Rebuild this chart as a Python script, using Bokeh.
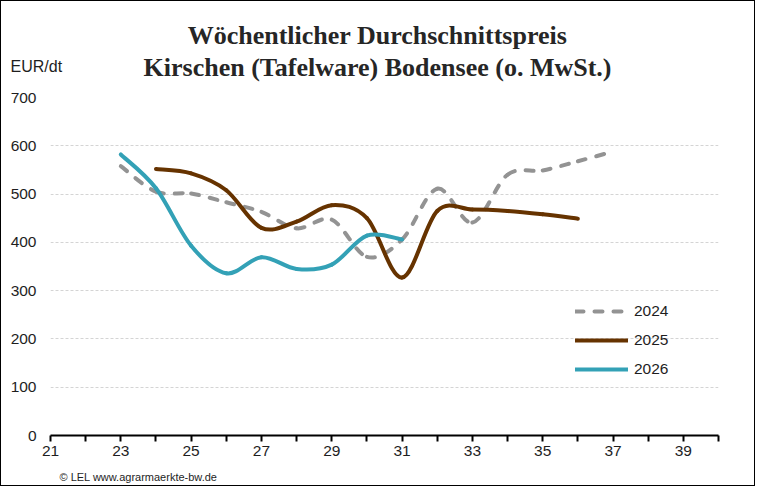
from bokeh.plotting import figure
from bokeh.models import (ColumnDataSource, Range1d, FixedTicker, Label, Legend,
                          LegendItem)
from bokeh.embed import file_html
from bokeh.resources import INLINE

# ---- data ----
weeks_2024 = [23, 24, 25, 26, 27, 28, 29, 30, 31, 32, 33, 34, 35, 36, 37]
price_2024 = [558, 505, 501, 483, 463, 429, 447, 370, 406, 511, 441, 540, 549, 568, 588]

weeks_2025 = [24, 25, 26, 27, 28, 29, 30, 31, 32, 33, 34, 35, 36]
price_2025 = [552, 543, 508, 430, 443, 477, 450, 327, 465, 468, 465, 458, 449]

weeks_2026 = [23, 24, 25, 26, 27, 28, 29, 30, 31]
price_2026 = [582, 512, 393, 336, 369, 345, 354, 414, 406]

x_major_ticks = [21, 23, 25, 27, 29, 31, 33, 35, 37, 39]
x_minor_ticks = [22, 24, 26, 28, 30, 32, 34, 36, 38, 40]
y_ticks = [0, 100, 200, 300, 400, 500, 600, 700]

series_names = ["2024", "2025", "2026"]
colors = ["#939393", "#663300", "#33a1b6"]
dashes = ["8 11", "solid", "solid"]

TITLE1 = "Wöchentlicher Durchschnittspreis"
TITLE2 = "Kirschen (Tafelware) Bodensee (o. MwSt.)"
UNIT = "EUR/dt"
FOOTER = "© LEL www.agrarmaerkte-bw.de"

SANS = "Liberation Sans"
SERIF = "Liberation Serif"
NAN = float("nan")


def smooth_segments(xs, ys):
    """Bezier control points of a smoothed line through the data points."""
    n = len(xs)
    d = dict(x0=[], y0=[], x1=[], y1=[], cx0=[], cy0=[], cx1=[], cy1=[])
    for i in range(n - 1):
        a = i - 1 if i > 0 else i
        b = i + 2 if i + 2 < n else i + 1
        d["x0"].append(xs[i]); d["y0"].append(ys[i])
        d["x1"].append(xs[i + 1]); d["y1"].append(ys[i + 1])
        d["cx0"].append(xs[i] + (xs[i + 1] - xs[a]) / 6)
        d["cy0"].append(ys[i] + (ys[i + 1] - ys[a]) / 6)
        d["cx1"].append(xs[i + 1] - (xs[b] - xs[i]) / 6)
        d["cy1"].append(ys[i + 1] - (ys[b] - ys[i]) / 6)
    return ColumnDataSource(d)


p = figure(width=755, height=486, output_backend="svg", toolbar_location=None,
           x_range=Range1d(21, 40), y_range=Range1d(0, 700),
           min_border_left=49, min_border_right=38, min_border_top=96,
           min_border_bottom=52)
p.styles = {"border": "1px solid black"}
p.outline_line_color = None
p.background_fill_color = "white"
p.border_fill_color = "white"

# grid
p.xgrid.grid_line_color = None
p.ygrid.ticker = FixedTicker(ticks=y_ticks)
p.ygrid.grid_line_color = "#d4d4d4"
p.ygrid.grid_line_dash = "3 2"
p.ygrid.grid_line_width = 1

# x axis
xa = p.xaxis[0]
xa.ticker = FixedTicker(ticks=x_major_ticks, minor_ticks=x_minor_ticks)
xa.axis_line_color = "black"
xa.axis_line_width = 2
xa.major_tick_line_color = "black"
xa.major_tick_line_width = 2
xa.minor_tick_line_color = "black"
xa.minor_tick_line_width = 2
xa.major_tick_in = 0
xa.major_tick_out = 6
xa.minor_tick_in = 0
xa.minor_tick_out = 6
xa.major_label_standoff = 4
xa.major_label_text_font = SANS
xa.major_label_text_font_size = "15.5px"
xa.major_label_text_color = "#1e1e1e"

# y axis
ya = p.yaxis[0]
ya.ticker = FixedTicker(ticks=y_ticks)
ya.axis_line_color = None
ya.major_tick_line_color = None
ya.minor_tick_line_color = None
ya.major_tick_in = 0
ya.major_tick_out = 0
ya.major_label_standoff = 14
ya.major_label_text_font = SANS
ya.major_label_text_font_size = "15.5px"
ya.major_label_text_color = "#1e1e1e"

# series
series = [(weeks_2024, price_2024), (weeks_2025, price_2025), (weeks_2026, price_2026)]
items = []
for (xs, ys), name, col, dash in zip(series, series_names, colors, dashes):
    src = smooth_segments(xs, ys)
    p.bezier(x0="x0", y0="y0", x1="x1", y1="y1", cx0="cx0", cy0="cy0",
             cx1="cx1", cy1="cy1", source=src, line_color=col, line_width=4,
             line_dash=dash, line_cap="round")
    proxy = p.line(x=[NAN, NAN], y=[NAN, NAN], line_color=col, line_width=4,
                   line_dash=dash, line_cap="round")
    items.append(LegendItem(label=name, renderers=[proxy]))

legend = Legend(items=items, location=(525, 55), orientation="vertical",
                glyph_width=53, glyph_height=22, spacing=7, label_standoff=6,
                padding=0, margin=0, border_line_color=None,
                background_fill_alpha=0, label_text_font=SANS,
                label_text_font_size="15.5px", label_text_color="#1e1e1e")
p.add_layout(legend, "center")

# titles and texts (outside the plotting frame)
p.add_layout(Label(x=327, y=62, x_units="screen", y_units="screen", text=TITLE1,
                   text_font=SERIF, text_font_style="bold", text_font_size="26px",
                   text_align="center", text_baseline="alphabetic",
                   text_color="#262626"), "above")
p.add_layout(Label(x=327, y=1, x_units="screen", y_units="screen", text=TITLE2,
                   text_font=SERIF, text_font_style="bold", text_font_size="26px",
                   text_align="center", text_baseline="alphabetic",
                   text_color="#262626"), "above")
p.add_layout(Label(x=-40, y=-27, x_units="screen", y_units="screen", text=UNIT,
                   text_font=SANS, text_font_size="16px",
                   text_align="left", text_baseline="alphabetic",
                   text_color="#1e1e1e"), "above")
p.add_layout(Label(x=9, y=-6, x_units="screen", y_units="screen", text=FOOTER,
                   text_font=SANS, text_font_size="11px",
                   text_align="left", text_baseline="alphabetic",
                   text_color="#1e1e1e"), "below")

open("out.html", "w").write(file_html(p, INLINE))
